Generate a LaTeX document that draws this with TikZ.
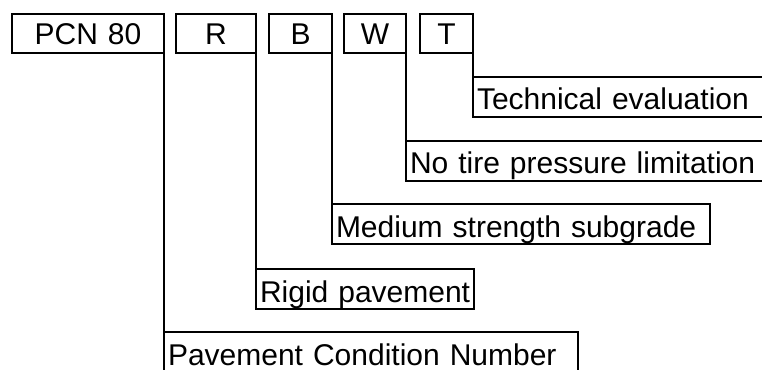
\documentclass[tikz,border=0pt]{standalone}
\usepackage{fontspec}
\setmainfont{Liberation Sans}
\begin{document}
\newcommand\pxu{0.75pt}
\begin{tikzpicture}[x=0.75pt,y=-0.75pt,
  lbl/.style={font=\fontsize{22.5pt}{27pt}\selectfont},
  codebox/.style={lbl, draw, line width=1.5pt, outer sep=0pt, anchor=north west, inner sep=0pt,
    text height=31*\pxu, text depth=8*\pxu, align=center},
  descbox/.style={lbl, draw, line width=1.5pt, outer sep=0pt, anchor=north west, inner xsep=4*\pxu, inner ysep=0pt,
    text height=33*\pxu, text depth=7*\pxu, align=left},
  link/.style={line width=1.5pt}]
\useasboundingbox (0,0) rectangle (762,370);
% code boxes
\node[codebox, text width=152*\pxu] (pcn) at (12,14) {PCN 80};
\node[codebox, text width=80*\pxu] (r) at (176,14) {R};
\node[codebox, text width=63*\pxu] (b) at (269,14) {B};
\node[codebox, text width=62*\pxu] (w) at (344,14) {W};
\node[codebox, text width=53*\pxu] (t) at (420,14) {T};
% description boxes
\node[descbox, text width=319*\pxu] (tech) at (473,77) {\mbox{Technical evaluation}};
\node[descbox, text width=386*\pxu] (tire) at (406,141) {\mbox{No tire pressure limitation}};
\node[descbox, text width=370*\pxu] (medium) at (332,204) {\mbox{Medium strength subgrade}};
\node[descbox, text width=210*\pxu] (rigid) at (256,269) {\mbox{Rigid pavement}};
\node[descbox, text width=406*\pxu, text depth=17*\pxu] (pav) at (164,332) {\mbox{Pavement Condition Number}};
% connectors
\draw[link] (pcn.south east) -- (pav.north west);
\draw[link] (r.south east) -- (rigid.north west);
\draw[link] (b.south east) -- (medium.north west);
\draw[link] (w.south east) -- (tire.north west);
\draw[link] (t.south east) -- (tech.north west);
\end{tikzpicture}
\end{document}
